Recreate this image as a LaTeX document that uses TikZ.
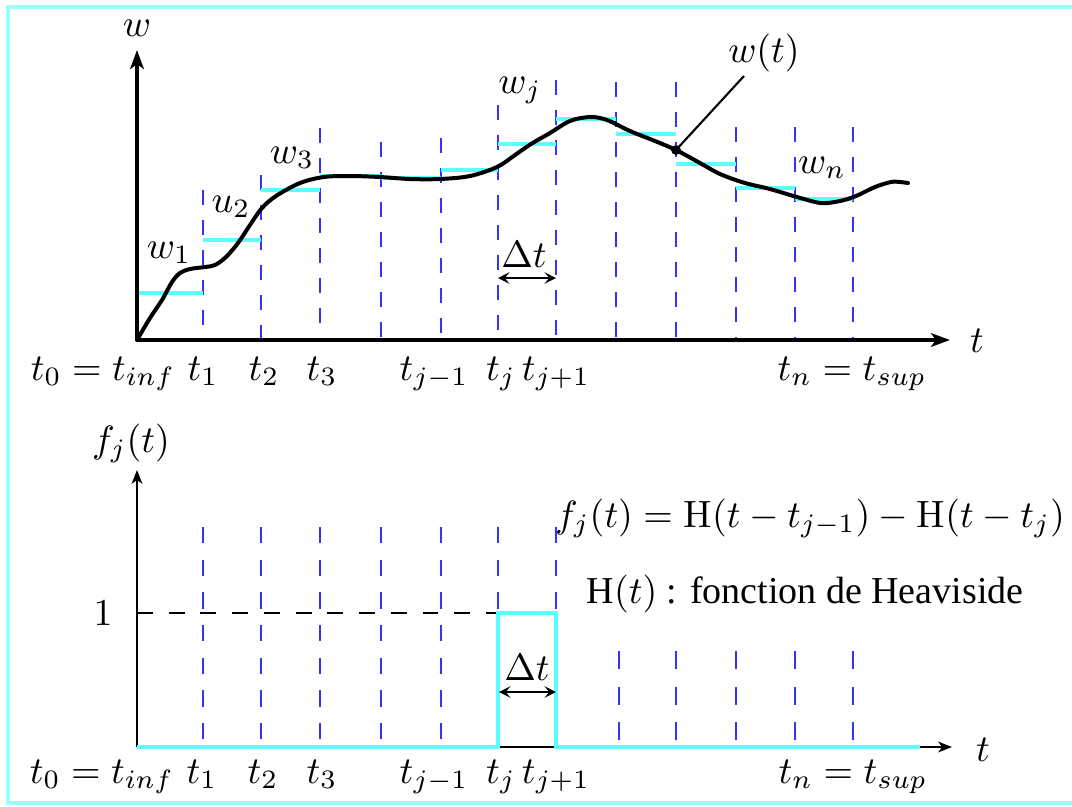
\documentclass[tikz,border=0pt]{standalone}
\usepackage{fontspec}
\newfontfamily\timesf{Liberation Serif}
\usetikzlibrary{arrows.meta}
\definecolor{bordercyan}{rgb}{0.6,1,1}
\definecolor{stepcyan}{rgb}{0.36,1,1}
\definecolor{gridblue}{rgb}{0.2,0.2,1}
\begin{document}
\begin{tikzpicture}[x=0.2632pt,y=-0.2632pt,
  axisU/.style={line width=1.05pt,-{Stealth[length=5pt,width=3.6pt,inset=1.3pt]}},
  axisL/.style={line width=0.65pt,-{Stealth[length=3.6pt,width=2.8pt,inset=1pt]}},
  curveline/.style={line width=1.05pt,line cap=round},
  stepline/.style={stepcyan,line width=1pt},
  gridU/.style={gridblue,line width=0.7pt,dash pattern=on 3.95pt off 3.95pt},
  gridL/.style={gridblue,line width=0.5pt,dash pattern=on 4.3pt off 4.3pt},
  gridL2/.style={gridblue,line width=0.5pt,dash pattern=on 4.7pt off 4.7pt},
  dtarrow/.style={line width=0.55pt,{Stealth[length=3pt,width=3pt,inset=1.2pt]}-{Stealth[length=3pt,width=3pt,inset=1.2pt]}},
  lbl/.style={inner sep=0pt,anchor=base}]
\useasboundingbox (0,0) rectangle (1072,806);
% frame
\draw[bordercyan,line width=1pt] (1072,7) -- (8,7) -- (8,803) -- (1072,803);

% ===== upper plot =====
\coordinate (uo) at (137,340);
\coordinate (uy) at (137,50);
\coordinate (ux) at (950,340);
\foreach \xx/\tt in {203/190,261/175,320/128,381/142,441/138,498/105,556/80,616/82,676/82,736/127,795/127,853/127}
  \draw[gridU] (\xx,\tt) -- (\xx,340);
% step segments
\foreach \xa/\xb/\yy in {137/203/293,203/261/240,261/320/190,320/381/176,381/441/178,441/498/170,498/556/144,556/616/119,616/676/134,676/736/164,736/795/188,795/853/199}
  \draw[stepline] (\xa,\yy) -- (\xb,\yy);
% curve
\draw[curveline] plot[smooth,tension=0.55] coordinates {
 (137,340) (150,318) (162,300) (172,282) (180,273) (190,269) (205,267) (215,265)
 (226,257) (238,243) (250,225) (262,208) (276,196) (300,183) (324,177) (350,176)
 (380,177) (410,179) (440,179) (470,176) (497,167) (515,155) (531,144) (550,133)
 (570,121) (590,117) (607,120) (630,131) (655,141) (676,150) (700,163) (720,174)
 (745,183) (770,189) (797,197) (821,203) (840,201) (856,196) (875,187) (891,182)
 (900,182) (908,183)};
% axes
\draw[axisU] (uo) -- (uy);
\draw[axisU] (uo) -- (ux);
% w(t) pointer
\fill (676,150) circle (1.3pt) coordinate (wdot);
\node[lbl] (wt) at (764,62) {$w(t)$};
\coordinate (wtend) at (744,76);
\draw[line width=0.55pt] (wdot) -- (wtend);
% labels
\node[lbl] (lw) at (137,36) {$w$};
\node[lbl] (lt) at (977,352) {$t$};
\node[lbl] (lw1) at (169,258) {$w_1$};
\node[lbl] (lu2) at (231,212) {$u_2$};
\node[lbl] (lw3) at (292,163) {$w_3$};
\node[lbl] (lwj) at (520,93) {$w_j$};
\node[lbl] (lwn) at (822,173) {$w_n$};
\node[lbl] (ldt) at (524,267) {$\Delta t$};
\coordinate (dta) at (498,278);
\coordinate (dtb) at (556,278);
\draw[dtarrow] (dta) -- (dtb);
% x labels upper
\node[lbl] (u0) at (103,380) {$t_0 = t_{inf}$};
\node[lbl] (u1) at (203,380) {$t_1$};
\node[lbl] (u2) at (264,380) {$t_2$};
\node[lbl] (u3) at (322,380) {$t_3$};
\node[lbl] (ujm) at (434,380) {$t_{j-1}$};
\node[lbl] (uj) at (501,380) {$t_j$};
\node[lbl] (ujp) at (556,380) {$t_{j+1}$};
\node[lbl] (un) at (852,380) {$t_n = t_{sup}$};

% ===== lower plot =====
\coordinate (lo) at (137,747);
\coordinate (ly) at (137,470);
\coordinate (lx) at (952,747);
\foreach \xx in {203,261,320,381,441,498,556}
  \draw[gridL] (\xx,527) -- (\xx,747);
\foreach \xx in {619,676,736,795,853}
  \draw[gridL2] (\xx,651) -- (\xx,747);
\draw[black,line width=0.7pt,dash pattern=on 4.2pt off 4.15pt] (137,613) -- (498,613);
\draw[axisL] (lo) -- (ly);
\draw[axisL] (lo) -- (lx);
\draw[stepcyan,line width=1pt] (137,747) -- (498,747) -- (498,613) -- (556,613) -- (556,747) -- (920,747);
\draw[black,line width=0.65pt] (500,747) -- (554,747);
\coordinate (dla) at (499,692);
\coordinate (dlb) at (556,692);
\draw[dtarrow,line width=0.75pt] (dla) -- (dlb);
\node[lbl] (ldt2) at (527,680) {$\Delta t$};
\node[lbl] (lf) at (131,452) {$f_j(t)$};
\node[lbl] (l1) at (103,625) {$1$};
\node[lbl] (lt2) at (983,761) {$t$};
\node[lbl] (form) at (810,527) {$f_j(t) = \mathrm{H}(t - t_{j-1}) - \mathrm{H}(t - t_j)$};
\node[lbl] (heav) at (805,603) {\timesf\fontsize{10pt}{12pt}\selectfont H$(t)$ : fonction de Heaviside};
\node[lbl] (b0) at (102,783) {$t_0 = t_{inf}$};
\node[lbl] (b1) at (202,783) {$t_1$};
\node[lbl] (b2) at (263,783) {$t_2$};
\node[lbl] (b3) at (322,783) {$t_3$};
\node[lbl] (bjm) at (434,783) {$t_{j-1}$};
\node[lbl] (bj) at (501,783) {$t_j$};
\node[lbl] (bjp) at (556,783) {$t_{j+1}$};
\node[lbl] (bn) at (853,783) {$t_n = t_{sup}$};
\end{tikzpicture}
\end{document}
